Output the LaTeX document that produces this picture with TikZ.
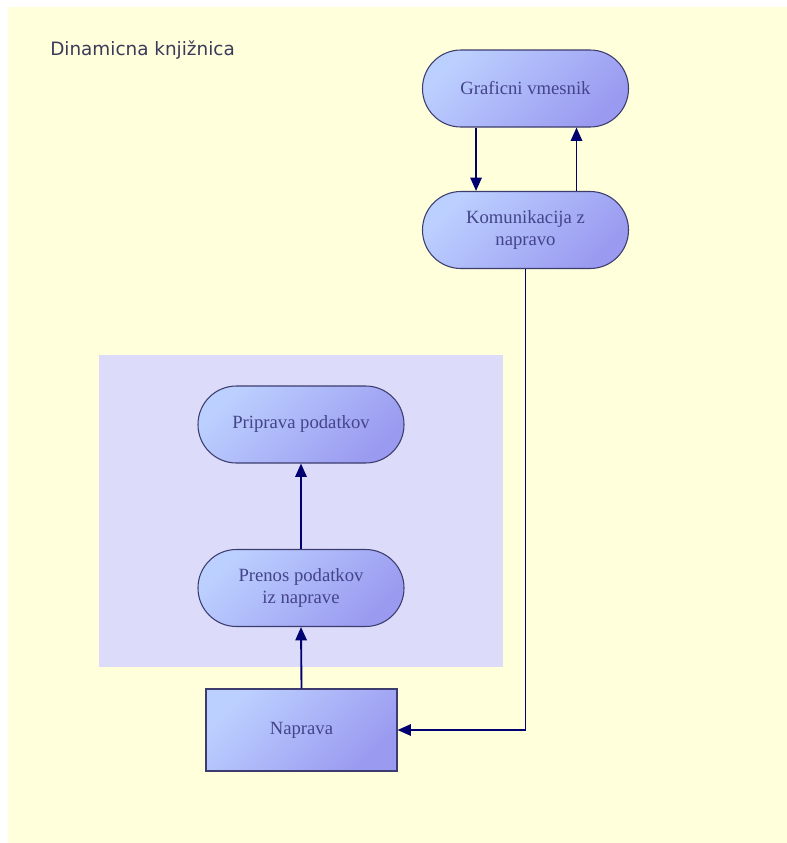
\documentclass[tikz,border=0pt]{standalone}
\usepackage{fontspec}
\setmainfont{Liberation Serif}
\newfontfamily\titlefont{DejaVu Sans}
\usetikzlibrary{arrows.meta}

\definecolor{paper}{HTML}{FFFFDC}
\definecolor{panel}{HTML}{DCDCFA}
\definecolor{shadeA}{HTML}{BCD0FF}
\definecolor{shadeB}{HTML}{9A9AF0}
\definecolor{edgeline}{HTML}{3C3C6E}
\definecolor{labeltext}{HTML}{44448A}
\definecolor{wire}{HTML}{000070}
\definecolor{titletext}{HTML}{3A3A5A}

\tikzset{
  block/.style={draw=edgeline, line width=0.8pt,
    top color=shadeA, bottom color=shadeB, shading angle=45,
    text=labeltext, font=\fontsize{14}{16}\selectfont,
    align=center, inner sep=0pt},
  pill/.style={block, minimum width=154.5pt, minimum height=57.75pt,
    rounded corners=28.8pt},
  boxnode/.style={block, minimum width=143.25pt, minimum height=61.5pt},
  flow/.style={draw=wire, line width=1.4pt,
    -{Triangle[length=10pt,width=8.5pt]}},
}

\begin{document}
\begin{tikzpicture}[x=0.75pt, y=-0.75pt]
  \useasboundingbox (0,0) rectangle (787,843);
  % backgrounds
  \fill[white] (0,0) rectangle (787,843);
  \fill[paper] (8,7) rectangle (787,843);
  \fill[panel] (99,355) rectangle (503,667);

  \node[anchor=base west, inner sep=0pt, text=titletext,
        font=\titlefont\fontsize{13.8}{15}\selectfont] (title) at (50,55)
        {Dinamicna knjižnica};

  % blocks
  \node[pill] (gui)  at (525.5,88.5) {Graficni vmesnik};
  \node[pill] (comm) at (525.5,230)  {Komunikacija z\\napravo};
  \node[pill] (prep) at (301,424.5)  {Priprava podatkov};
  \node[pill] (xfer) at (301,588)    {Prenos podatkov\\iz naprave};
  \node[boxnode] (dev) at (301.5,730) {Naprava};

  % connectors
  \draw[flow] ([xshift=-37.1pt]gui.south) -- ([xshift=-37.1pt]comm.north);
  \draw[flow] ([xshift=38.25pt]comm.north) -- ([xshift=38.25pt]gui.south);
  \draw[flow] (comm.south) |- (dev.east);
  \draw[flow] (xfer.north) -- (prep.south);
  \draw[flow] (dev.north) -- (xfer.south);
\end{tikzpicture}
\end{document}
